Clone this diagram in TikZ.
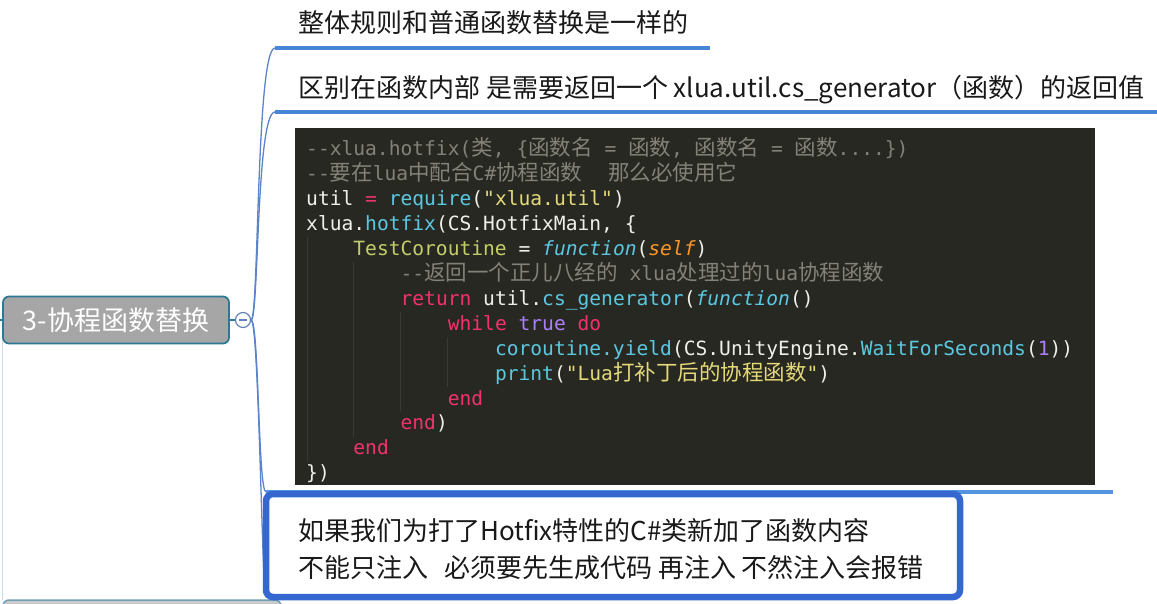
\documentclass[tikz,border=0pt]{standalone}
\usepackage{fontspec}
\setmainfont{Noto Sans CJK SC}
\setmonofont{DejaVu Sans Mono}
\newfontfamily\cjk{Noto Sans CJK SC}
\usepackage{xcolor}
\usetikzlibrary{calc}
\definecolor{branchblue}{RGB}{74,134,216}
\definecolor{selblue}{RGB}{52,104,208}
\definecolor{lightbranch}{RGB}{84,150,222}
\definecolor{curveblue}{RGB}{92,132,200}
\definecolor{topicfill}{RGB}{166,166,166}
\definecolor{topicedge}{RGB}{46,120,150}
\definecolor{codebg}{RGB}{40,40,34}
\definecolor{guide}{RGB}{56,57,50}
\definecolor{codewhite}{RGB}{240,240,234}
\definecolor{mkpink}{RGB}{240,50,110}
\definecolor{mkcyan}{RGB}{90,200,225}
\definecolor{mkyellow}{RGB}{228,218,120}
\definecolor{mkgreen}{RGB}{196,206,104}
\definecolor{mkgray}{RGB}{130,130,120}
\definecolor{mkpurple}{RGB}{170,128,250}
\definecolor{mkorange}{RGB}{250,150,40}
\newcommand\ckw[1]{\textcolor{mkpink}{#1}}
\newcommand\cfn[1]{\textcolor{mkcyan}{#1}}
\newcommand\cstr[1]{\textcolor{mkyellow}{#1}}
\newcommand\cvar[1]{\textcolor{mkgreen}{#1}}
\newcommand\ccom[1]{\textcolor{mkgray}{#1}}
\newcommand\cnum[1]{\textcolor{mkpurple}{#1}}
\newcommand\carg[1]{\textcolor{mkorange}{#1}}
\newcommand\zh[1]{{\cjk\fontsize{21.5}{24}\selectfont #1}}

\begin{document}
\begin{tikzpicture}[x=1pt, y=-1pt,
  branch/.style={curveblue, line width=1.3pt},
  bar/.style={branchblue, line width=4.5pt},
  topic/.style={rectangle, rounded corners=6pt, fill=topicfill, draw=topicedge,
    line width=1.8pt, minimum width=226pt, minimum height=47pt,
    text=white, font=\fontsize{27}{30}\selectfont},
  foldmark/.style={circle, draw=curveblue!80!gray, fill=white, line width=1.2pt,
    minimum size=15pt, inner sep=0pt},
  subtext/.style={anchor=base west, inner sep=0pt, text=black!90,
    font=\fontsize{26}{30}\selectfont},
  codeline/.style={anchor=base west, inner sep=0pt, text=codewhite,
    font=\ttfamily\fontsize{19.6}{24}\selectfont}]

  \fill[white] (0,0) rectangle (1157,604);
  \useasboundingbox (0,0) rectangle (1157,604);

  % parent line and the topic below
  \draw[topicedge!25, line width=1pt] (2,330) -- (2,600);
  \begin{scope}
    \clip (0,0) rectangle (1157,604);
    \draw[topicedge!70, fill=topicfill!60, line width=1.5pt, rounded corners=6pt]
      (3,600) rectangle (281,640);
  \end{scope}

  % topic
  \coordinate (lstub) at (0,320);
  \node[topic] (topic) at (116,320) {3-协程函数替换};
  \node[foldmark] (fold) at (243,320) {};
  \draw[topicedge, line width=1.5pt] (lstub) -- (topic.west);
  \draw[topicedge, line width=1.2pt] (topic.east) -- (fold.west);
  \draw[curveblue!80!gray, line width=1.2pt]
    ([xshift=-4pt]fold.center) -- ([xshift=4pt]fold.center);

  % ends of the branches
  \coordinate (u1) at (275,48);   \coordinate (u1e) at (710,48);
  \coordinate (u2) at (275,112);  \coordinate (u2e) at (1157,112);
  \coordinate (u3) at (266,492);  \coordinate (u3e) at (1113,492);
  \coordinate (u4) at (266,597);

  \draw[branch] (fold.east) .. controls (259,320) and (256,48) .. (u1);
  \draw[branch] (fold.east) .. controls (259,320) and (256,112) .. (u2);
  \draw[branch] (fold.east) .. controls (259,320) and (258,492) .. (u3);
  \draw[branch] (fold.east) .. controls (259,320) and (262,597) .. (u4);

  % first two children
  \node[subtext] (rule) at (298,33) {整体规则和普通函数替换是一样的};
  \draw[bar] (u1) -- (u1e);
  \node[subtext] (diff) at (298,98)
    {区别在函数内部 是需要返回一个 xlua.util.cs\_generator（函数）的返回值};
  \draw[bar] (u2) -- (u2e);

  % code picture
  \node[fill=codebg, minimum width=800pt, minimum height=357pt, inner sep=0pt]
    (codebox) at (695,306.5) {};
  \draw[lightbranch, line width=4pt] (u3) -- (u3e);
  \foreach \gx/\ya/\yb in {307/237/462, 353/262/437, 400/312/412, 447/337/387}
    \draw[guide, line width=1pt] (\gx,\ya) -- (\gx,\yb);

  \foreach \ind/\txt [count=\n] in {
    0/{\ccom{--xlua.hotfix(\zh{类}, \{\zh{函数名} = \zh{函数}, \zh{函数名} = \zh{函数}....\})}},
    0/{\ccom{--\zh{要在}lua\zh{中配合}C\#\zh{协程函数}\hspace*{26pt}\zh{那么必使用它}}},
    0/{util \ckw{=} \cfn{require}(\cstr{"xlua.util"})},
    0/{xlua.\cfn{hotfix}(CS.HotfixMain, \{},
    4/{\cvar{TestCoroutine} = \cfn{\itshape function}(\carg{\itshape self})},
    8/{\ccom{--\zh{返回一个正儿八经的} xlua\zh{处理过的}lua\zh{协程函数}}},
    8/{\ckw{return} util.\cfn{cs\_generator}(\cfn{\itshape function}()},
    12/{\ckw{while} \cnum{true} \ckw{do}},
    16/{\cfn{coroutine.yield}(CS.UnityEngine.\cfn{WaitForSeconds}(\cnum{1}))},
    16/{\cfn{print}(\cstr{"Lua\zh{打补丁后的协程函数}"})},
    12/{\ckw{end}},
    8/{\ckw{end})},
    4/{\ckw{end}},
    0/{\})}}
    \node[codeline] (cl\n) at ({306+11.8*\ind},{156+24.9*(\n-1)}) {\txt};

  % selected child
  \node[draw=selblue, line width=6.5pt, rounded corners=7pt, fill=white,
    minimum width=694pt, minimum height=103pt, inner sep=0pt]
    (note) at (613,545.5) {};
  \node[subtext] (note1) at (298,540) {如果我们为打了Hotfix特性的C\#类新加了函数内容};
  \node[subtext] (note2) at (298,577)
    {不能只注入\hspace*{16pt}必须要先生成代码 再注入 不然注入会报错};
\end{tikzpicture}
\end{document}
